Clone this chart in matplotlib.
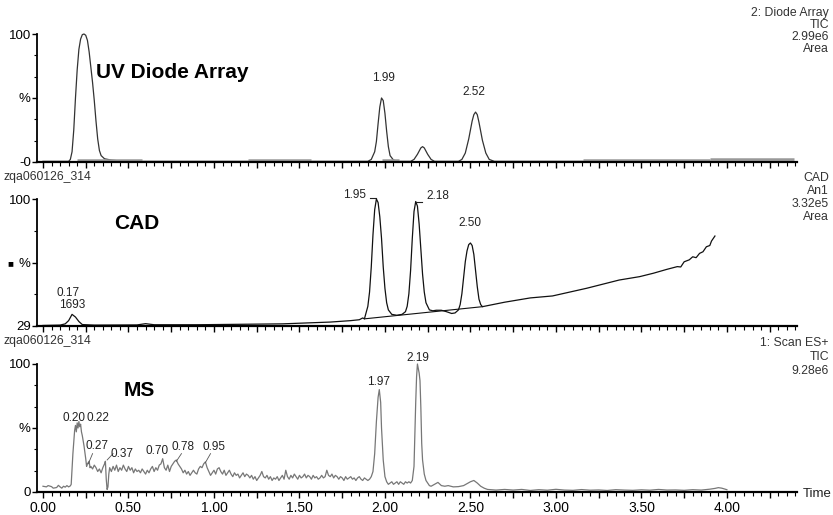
import matplotlib
matplotlib.use("Agg")
import matplotlib.pyplot as plt
from matplotlib.ticker import MultipleLocator, FixedLocator, FuncFormatter

plt.rcParams['font.family'] = ['Liberation Sans', 'DejaVu Sans']

# --- UV diode array trace (time in min, % of max)
uv_time = [0.00, 0.10, 0.15, 0.16, 0.17, 0.18, 0.19, 0.20, 0.21, 0.22, 0.23, 0.24, 0.25,
           0.26, 0.27, 0.28, 0.29, 0.30, 0.31, 0.32, 0.33, 0.34, 0.36, 0.40, 0.45, 0.55,
           1.90, 1.92, 1.94, 1.95, 1.96, 1.97, 1.98, 1.99, 2.00, 2.01, 2.02, 2.03, 2.05,
           2.08, 2.15, 2.17, 2.19, 2.21, 2.22, 2.23, 2.25, 2.27, 2.29, 2.43, 2.45, 2.47,
           2.49, 2.51, 2.52, 2.53, 2.54, 2.55, 2.57, 2.59, 2.61, 2.64, 4.39]
uv_pct = [0.5, 0.5, 0.5, 2, 8, 25, 50, 72, 88, 96, 99.5, 100, 99,
          95, 86, 74, 62, 48, 32, 18, 9, 5, 2.5, 1.5, 0.8, 0.5,
          0.5, 2, 8, 16, 30, 43, 50, 48, 38, 24, 12, 5, 1.5,
          0.5, 0.5, 2, 6, 11, 12, 11, 6, 2, 0.5, 0.5, 2, 7,
          18, 32, 37, 39, 37, 31, 17, 7, 2, 0.5, 0.5]
uv_marks = [(0.20, 0.58, 1.2), (1.20, 1.57, 1.2), (1.98, 2.08, 1.2), (3.16, 3.90, 1.2), (3.90, 4.39, 2.4)]

# --- CAD trace
cad_time = [0.00, 0.10, 0.13, 0.15, 0.17, 0.19, 0.21, 0.23, 0.30, 0.55, 0.60, 0.65, 0.90,
            1.20, 1.40, 1.68, 1.80, 1.85, 1.87, 1.88, 1.90, 1.91, 1.92, 1.93, 1.94, 1.95,
            1.96, 1.97, 1.98, 1.99, 2.00, 2.01, 2.02, 2.04, 2.07, 2.10, 2.12, 2.13, 2.14,
            2.15, 2.16, 2.17, 2.18, 2.19, 2.20, 2.21, 2.22, 2.23, 2.24, 2.26, 2.28, 2.30,
            2.33, 2.36, 2.39, 2.41, 2.43, 2.44, 2.45, 2.46, 2.47, 2.48, 2.49, 2.50, 2.51,
            2.52, 2.53, 2.54, 2.55, 2.56, 2.57, 2.70, 2.85, 2.98, 3.18, 3.37, 3.49, 3.57,
            3.65, 3.71, 3.73, 3.75, 3.78, 3.80, 3.82, 3.84, 3.86, 3.88, 3.90, 3.91, 3.93]
cad_pct = [29.3, 29.5, 30.2, 32, 35.5, 34, 31.5, 29.8, 29.5, 29.6, 30.3, 29.7, 29.7,
           30.0, 30.2, 31.2, 32.0, 32.5, 33.5, 33.0, 40, 48, 62, 80, 94, 100,
           98, 90, 78, 62, 50, 42, 38, 35.5, 35, 35.5, 37, 40, 47,
           60, 78, 93, 98.6, 96, 86, 72, 58, 48, 42, 38, 37.5, 37.8,
           37.8, 37, 36, 36.3, 38, 41, 47, 56, 65, 71, 74.5, 75.4, 74,
           69, 60, 51, 44, 41, 39.8, 42.3, 44.7, 45.8, 50.1, 54.7, 56.6, 58.5,
           60.7, 62.2, 62.0, 64.9, 66.0, 67.7, 67.2, 69.6, 70.5, 73.3, 74.0, 76.5, 79.3]
cad_base_time = [1.88, 2.57]
cad_base_pct = [33.0, 39.8]

# --- MS total ion current
ms_time = [0.00, 0.02, 0.03, 0.05, 0.06, 0.08, 0.09, 0.10, 0.11, 0.12, 0.13, 0.14, 0.15, 0.16,
           0.165, 0.175, 0.185, 0.19, 0.195, 0.20, 0.205, 0.21, 0.215, 0.22, 0.225, 0.23, 0.24,
           0.25, 0.255, 0.26, 0.27, 0.275, 0.28, 0.29, 0.30, 0.31, 0.32, 0.33, 0.34, 0.35, 0.36,
           0.365, 0.37, 0.375, 0.38, 0.385, 0.39, 0.40, 0.41, 0.42, 0.43, 0.44, 0.45, 0.46, 0.47,
           0.48, 0.49, 0.50, 0.51, 0.52, 0.53, 0.54, 0.55, 0.56, 0.57, 0.58, 0.59, 0.60, 0.61,
           0.62, 0.63, 0.64, 0.65, 0.66, 0.67, 0.68, 0.69, 0.70, 0.71, 0.72, 0.73, 0.74, 0.75,
           0.76, 0.77, 0.78, 0.79, 0.80, 0.81, 0.82, 0.83, 0.84, 0.85, 0.86, 0.87, 0.88, 0.89,
           0.90, 0.91, 0.92, 0.93, 0.94, 0.95, 0.96, 0.97, 0.98, 0.99, 1.00, 1.01, 1.02, 1.03,
           1.04, 1.05, 1.06, 1.07, 1.08, 1.09, 1.10, 1.11, 1.12, 1.13, 1.14, 1.15, 1.16, 1.17,
           1.18, 1.19, 1.20, 1.21, 1.22, 1.23, 1.24, 1.25, 1.26, 1.27, 1.28, 1.29, 1.30, 1.31,
           1.32, 1.33, 1.34, 1.35, 1.36, 1.37, 1.38, 1.39, 1.40, 1.41, 1.42, 1.43, 1.44, 1.45,
           1.46, 1.47, 1.48, 1.49, 1.50, 1.51, 1.52, 1.53, 1.54, 1.55, 1.56, 1.57, 1.58, 1.59,
           1.60, 1.61, 1.62, 1.63, 1.64, 1.65, 1.66, 1.67, 1.68, 1.69, 1.70, 1.71, 1.72, 1.73,
           1.74, 1.75, 1.76, 1.77, 1.78, 1.79, 1.80, 1.81, 1.82, 1.83, 1.84, 1.85, 1.86, 1.87,
           1.88, 1.89, 1.90, 1.91, 1.92, 1.93, 1.94, 1.95, 1.96, 1.967, 1.975, 1.98, 1.99, 2.00,
           2.01, 2.02, 2.03, 2.04, 2.05, 2.06, 2.07, 2.08, 2.09, 2.10, 2.11, 2.12, 2.13, 2.14,
           2.15, 2.16, 2.17, 2.175, 2.18, 2.185, 2.19, 2.20, 2.205, 2.21, 2.215, 2.22, 2.23, 2.24,
           2.25, 2.26, 2.27, 2.29, 2.31, 2.33, 2.35, 2.37, 2.40, 2.43, 2.46, 2.48, 2.50, 2.52,
           2.54, 2.56, 2.58, 2.60, 2.65, 2.70, 2.75, 2.80, 2.85, 2.90, 2.95, 3.00, 3.05, 3.10,
           3.15, 3.20, 3.25, 3.30, 3.35, 3.40, 3.45, 3.50, 3.55, 3.60, 3.65, 3.70, 3.75, 3.80,
           3.85, 3.90, 3.93, 3.95, 3.97, 4.00]
ms_pct = [4.5, 4.0, 5.0, 4.2, 3.0, 3.5, 5.2, 4.0, 3.0, 4.5, 3.8, 5.0, 4.0, 4.8,
          6, 30, 48, 52, 47, 54, 50, 55, 51, 53, 47, 44, 36,
          26, 20, 22, 24, 19, 20, 18, 21, 19, 16, 18, 15, 19, 22,
          24, 10, 2, 4, 14, 19, 16, 20, 17, 21, 16, 19, 17, 21,
          18, 16, 20, 17, 19, 15, 18, 16, 17, 15, 18, 16, 14, 17,
          15, 18, 20, 16, 19, 17, 21, 22, 26, 19, 17, 21, 16, 20,
          22, 24, 25, 22, 20, 18, 15, 17, 14, 16, 13, 15, 17, 15,
          14, 18, 20, 19, 22, 23.5, 19, 16, 13, 15, 17, 14, 18, 19,
          16, 14, 17, 13, 15, 17, 14, 12, 15, 13, 14, 11, 13, 15,
          12, 14, 13, 11, 13, 10, 12, 9, 11, 13, 16, 12, 11, 13,
          10, 12, 9, 11, 10, 12, 9, 11, 13, 10, 17, 12, 10, 13,
          11, 14, 12, 10, 13, 11, 12, 14, 11, 13, 12, 10, 13, 11,
          12, 10, 11, 13, 11, 12, 17, 13, 12, 14, 11, 13, 12, 10,
          12, 11, 9, 12, 10, 11, 12, 10, 11, 9, 11, 12, 10, 9,
          11, 10, 9, 10, 12, 16, 30, 55, 74, 80, 70, 50, 25, 12,
          8, 6, 7, 8, 6, 7, 8, 6, 8, 7, 6, 8, 7, 8,
          7, 9, 20, 45, 70, 90, 100, 93, 87, 66, 38, 25, 14, 9,
          7, 5, 4.5, 6, 7.5, 5, 4.5, 5, 4, 4.2, 5, 6.5, 8, 9,
          7, 4.5, 3, 2, 1.5, 2, 1.5, 2, 1.2, 1.8, 1.4, 2.1, 1.5, 1.3,
          1.9, 1.4, 1.6, 1.2, 1.8, 1.5, 1.3, 1.7, 1.4, 2.0, 1.5, 1.6, 1.3, 1.8,
          1.5, 2.2, 2.8, 3.4, 3.0, 1.8]

x_min, x_max = -0.035, 4.41
x_labels = ["0.00", "0.50", "1.00", "1.50", "2.00", "2.50", "3.00", "3.50", "4.00"]

W, H = 833, 515
fig = plt.figure(figsize=(W / 100, H / 100), dpi=100)


def fx(px):
    return px / W


def fy(py):
    return 1 - py / H


def make_axes(top, bottom):
    ax = fig.add_axes([fx(37), fy(bottom), fx(797) - fx(37), (bottom - top) / H])
    ax.set_xlim(x_min, x_max)
    for side in ["top", "right"]:
        ax.spines[side].set_visible(False)
    ax.spines["bottom"].set_linewidth(1.6)
    ax.spines["left"].set_linewidth(1.3)
    ax.xaxis.set_major_locator(MultipleLocator(0.25))
    ax.xaxis.set_minor_locator(MultipleLocator(0.05))
    ax.tick_params(axis="x", which="major", length=4.5, width=1, direction="out")
    ax.tick_params(axis="x", which="minor", length=3, width=0.8, direction="out")
    ax.tick_params(axis="y", which="major", length=3.5, width=1, labelsize=9.5, pad=1)
    ax.tick_params(axis="y", which="minor", length=2.5, width=0.8)
    ax.patch.set_alpha(0)
    return ax


small = dict(fontsize=8.8, color="#333333")
peak = dict(fontsize=8.5, color="#222222", ha="center", va="center")
big = dict(fontsize=15, fontweight="bold", color="black", va="center")

# Panel 1: UV
ax1 = make_axes(34, 162)
ax1.set_ylim(0, 100)
ax1.plot(uv_time, uv_pct, color="#333333", lw=0.9, clip_on=False)
for t0, t1, lvl in uv_marks:
    ax1.plot([t0, t1], [lvl, lvl], color="#999999", lw=1.8, solid_capstyle="butt", clip_on=False)
ax1.set_yticks([0, 50, 100])
ax1.set_yticklabels(["-0", "%", "100"])
ax1.yaxis.set_minor_locator(FixedLocator([16.7, 33.3, 66.7, 83.3]))
ax1.set_xticklabels([])
ax1.text(1.99, 66, "1.99", **peak)
ax1.text(2.52, 55, "2.52", **peak)

# Panel 2: CAD
ax2 = make_axes(199, 326)
ax2.set_ylim(29, 100)
ax2.plot(cad_time, cad_pct, color="#111111", lw=0.9, clip_on=False)
ax2.plot(cad_base_time, cad_base_pct, color="#111111", lw=0.8)
ax2.set_yticks([29, 64.5, 100])
ax2.set_yticklabels(["29", "%", "100"])
ax2.yaxis.set_minor_locator(FixedLocator([46.75, 82.25]))
ax2.set_xticklabels([])
ax2.text(1.82, 102.5, "1.95", **peak)
ax2.plot([1.915, 1.95], [100.6, 100.6], color="#222222", lw=0.8, clip_on=False)
ax2.text(2.31, 101.5, "2.18", **peak)
ax2.plot([2.18, 2.215], [98.6, 98.6], color="#222222", lw=0.8, clip_on=False)
ax2.text(2.50, 86.5, "2.50", **peak)
ax2.text(0.145, 47.5, "0.17", **peak)
ax2.text(0.17, 40.5, "1693", **peak)

# Panel 3: MS
ax3 = make_axes(364, 492)
ax3.set_ylim(0, 100)
ax3.plot(ms_time, ms_pct, color="#777777", lw=0.9, clip_on=False)
ax3.set_yticks([0, 50, 100])
ax3.set_yticklabels(["0", "%", "100"])
ax3.yaxis.set_minor_locator(FixedLocator([16.7, 33.3, 66.7, 83.3]))
ax3.xaxis.set_major_formatter(FuncFormatter(
    lambda v, p: x_labels[int(round(v / 0.5))] if abs(v / 0.5 - round(v / 0.5)) < 1e-6
    and 0 <= round(v / 0.5) < len(x_labels) else ""))
ax3.tick_params(axis="x", labelsize=10, pad=2)
ax3.text(1.96, 86, "1.97", **peak)
ax3.text(2.195, 105, "2.19", **peak)
ax3.text(0.18, 58, "0.20", **peak)
ax3.text(0.32, 58, "0.22", **peak)
ax3.text(0.315, 36, "0.27", **peak)
ax3.text(0.46, 30, "0.37", **peak)
ax3.plot([0.375, 0.41], [25, 30], color="#555555", lw=0.6)
ax3.plot([0.265, 0.29], [22, 30], color="#555555", lw=0.6)
ax3.text(0.665, 32, "0.70", **peak)
ax3.text(0.82, 35, "0.78", **peak)
ax3.plot([0.78, 0.81], [24, 30], color="#555555", lw=0.6)
ax3.text(1.0, 35, "0.95", **peak)
ax3.plot([0.95, 0.98], [23, 30], color="#555555", lw=0.6)

# Bold panel titles
fig.text(fx(96), fy(73), "UV Diode Array", **big)
fig.text(fx(114), fy(223), "CAD", **big)
fig.text(fx(124), fy(391), "MS", **big)

# Header / info texts
for py, s in [(13, "2: Diode Array"), (25, "TIC"), (37, "2.99e6"), (49, "Area")]:
    fig.text(fx(829), fy(py), s, ha="right", va="center", **small)
for py, s in [(178, "CAD"), (191, "An1"), (204, "3.32e5"), (217, "Area")]:
    fig.text(fx(829), fy(py), s, ha="right", va="center", **small)
for py, s in [(343, "1: Scan ES+"), (357, "TIC"), (371, "9.28e6")]:
    fig.text(fx(829), fy(py), s, ha="right", va="center", **small)
for py in [177, 341]:
    fig.text(fx(4), fy(py), "zqa060126_314", ha="left", va="center", **small)
fig.text(fx(10), fy(263), "\u25a0", ha="center", va="center", fontsize=7, color="black")
fig.text(fx(803), fy(494), "Time", ha="left", va="center", fontsize=9.5, color="#222222")

fig.savefig("out.png", dpi=100)
